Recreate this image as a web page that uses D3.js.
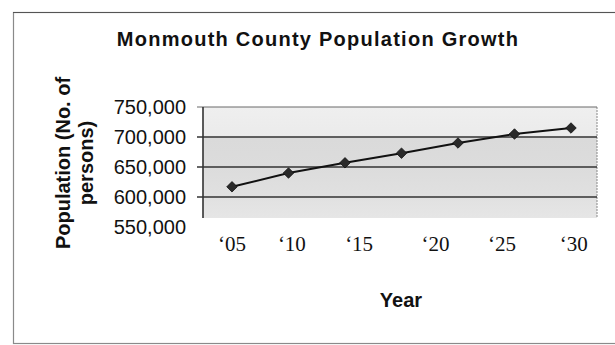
<!DOCTYPE html>
<html>
<head>
<meta charset="utf-8">
<script src="https://cdn.jsdelivr.net/npm/d3@7"></script>
<style>
  body { margin: 0; background: #fff; }
  svg { display: block; }
</style>
</head>
<body>
<svg id="chart" width="615" height="345"></svg>
<script>
// chart data
const chartTitle = "Monmouth County Population Growth";
const xTitle = "Year";
const yTitleLines = ["Population (No. of", "persons)"];

// one entry per plotted point (index along the x axis)
const pointIndex = [0, 1, 2, 3, 4, 5, 6];
const population = [617000, 640000, 657000, 673000, 690000, 705000, 715000];

// year labels, and where they sit in point-index units
const yearLabels = ["\u201805", "\u201810", "\u201815", "\u201820", "\u201825", "\u201830"];
const yearLabelAt = [0, 1.06, 2.25, 3.6, 4.78, 6.05];

const yTicks = [550000, 600000, 650000, 700000, 750000];

const svg = d3.select("#chart");

// layout
const plot = {left: 203, right: 597, top: 107, bottom: 218};

const x = d3.scaleLinear().domain([0, 6]).range([232, 571]);
const y = d3.scaleLinear().domain([550000, 750000]).range([227, 107]);

// outer frame
svg.append("rect")
    .attr("x", 13.5).attr("y", 12.5)
    .attr("width", 620).attr("height", 331)
    .attr("fill", "none")
    .attr("stroke", "#8a8a8a")
    .attr("stroke-width", 1.2);
svg.append("line")
    .attr("x1", 13).attr("x2", 615)
    .attr("y1", 12.5).attr("y2", 12.5)
    .attr("stroke", "#555").attr("stroke-width", 1);

// plot background (gray halftone look)
const grad = svg.append("defs").append("linearGradient")
    .attr("id", "bg").attr("x1", 0).attr("x2", 0).attr("y1", 0).attr("y2", 1);
[["0%", "#efefef"], ["26%", "#ebebeb"], ["28%", "#dadada"], ["55%", "#dcdcdc"], ["78%", "#e0e0e0"], ["100%", "#e6e6e6"]]
    .forEach(s => grad.append("stop").attr("offset", s[0]).attr("stop-color", s[1]));

svg.append("rect")
    .attr("x", plot.left).attr("y", plot.top)
    .attr("width", plot.right - plot.left).attr("height", plot.bottom - plot.top)
    .attr("fill", "url(#bg)");

// right edge, dashed gray
svg.append("line")
    .attr("x1", plot.right).attr("x2", plot.right)
    .attr("y1", plot.top).attr("y2", plot.bottom)
    .attr("stroke", "#888").attr("stroke-width", 1)
    .attr("stroke-dasharray", "2,1");

// gridlines
svg.append("g")
    .selectAll("line")
    .data(yTicks.filter(d => d > 550000))
    .enter()
    .append("line")
    .attr("x1", plot.left - 6)
    .attr("x2", plot.right)
    .attr("y1", d => y(d))
    .attr("y2", d => y(d))
    .attr("stroke", d => d === 750000 ? "#6a6a6a" : "#333")
    .attr("stroke-width", d => d === 750000 ? 1.2 : 1.6);

// y axis line
svg.append("line")
    .attr("x1", plot.left).attr("x2", plot.left)
    .attr("y1", plot.top).attr("y2", plot.bottom)
    .attr("stroke", "#333").attr("stroke-width", 1.6);

// y tick labels
svg.append("g")
    .selectAll("text")
    .data(yTicks)
    .enter()
    .append("text")
    .attr("x", 186)
    .attr("y", d => y(d))
    .attr("dy", "0.36em")
    .attr("text-anchor", "end")
    .attr("font-family", "Liberation Sans, Arial, sans-serif")
    .attr("font-size", 20)
    .attr("fill", "#111")
    .text(d3.format(","));

// x labels
svg.append("g")
    .selectAll("text")
    .data(yearLabels)
    .enter()
    .append("text")
    .attr("x", (d, i) => x(yearLabelAt[i]))
    .attr("y", 251)
    .attr("text-anchor", "middle")
    .attr("font-family", "Liberation Serif, Times New Roman, serif")
    .attr("font-size", 21)
    .attr("fill", "#111")
    .text(d => d);

// the series
const pts = pointIndex.map((d, i) => ({i: d, v: population[i]}));

svg.append("path")
    .datum(pts)
    .attr("fill", "none")
    .attr("stroke", "#111")
    .attr("stroke-width", 2)
    .attr("d", d3.line().x(d => x(d.i)).y(d => y(d.v)));

svg.append("g")
    .selectAll("path")
    .data(pts)
    .enter()
    .append("path")
    .attr("transform", d => `translate(${x(d.i)},${y(d.v)})`)
    .attr("d", d3.symbol().type(d3.symbolDiamond2).size(70))
    .attr("fill", "#2a2a2a")
    .attr("stroke", "#111")
    .attr("stroke-width", 0.8);

// titles
svg.append("text")
    .attr("x", 318).attr("y", 46)
    .attr("text-anchor", "middle")
    .attr("font-family", "Liberation Sans, Arial, sans-serif")
    .attr("font-weight", "bold")
    .attr("font-size", 20)
    .attr("letter-spacing", 1.25)
    .attr("fill", "#111")
    .text(chartTitle);

svg.append("text")
    .attr("x", 401).attr("y", 307)
    .attr("text-anchor", "middle")
    .attr("font-family", "Liberation Sans, Arial, sans-serif")
    .attr("font-weight", "bold")
    .attr("font-size", 20)
    .attr("fill", "#111")
    .text(xTitle);

svg.append("g")
    .selectAll("text")
    .data(yTitleLines)
    .enter()
    .append("text")
    .attr("transform", (d, i) => `translate(${70 + i * 23},163) rotate(-90)`)
    .attr("text-anchor", "middle")
    .attr("font-family", "Liberation Sans, Arial, sans-serif")
    .attr("font-weight", "bold")
    .attr("font-size", 20)
    .attr("fill", "#111")
    .text(d => d);
</script>
</body>
</html>
